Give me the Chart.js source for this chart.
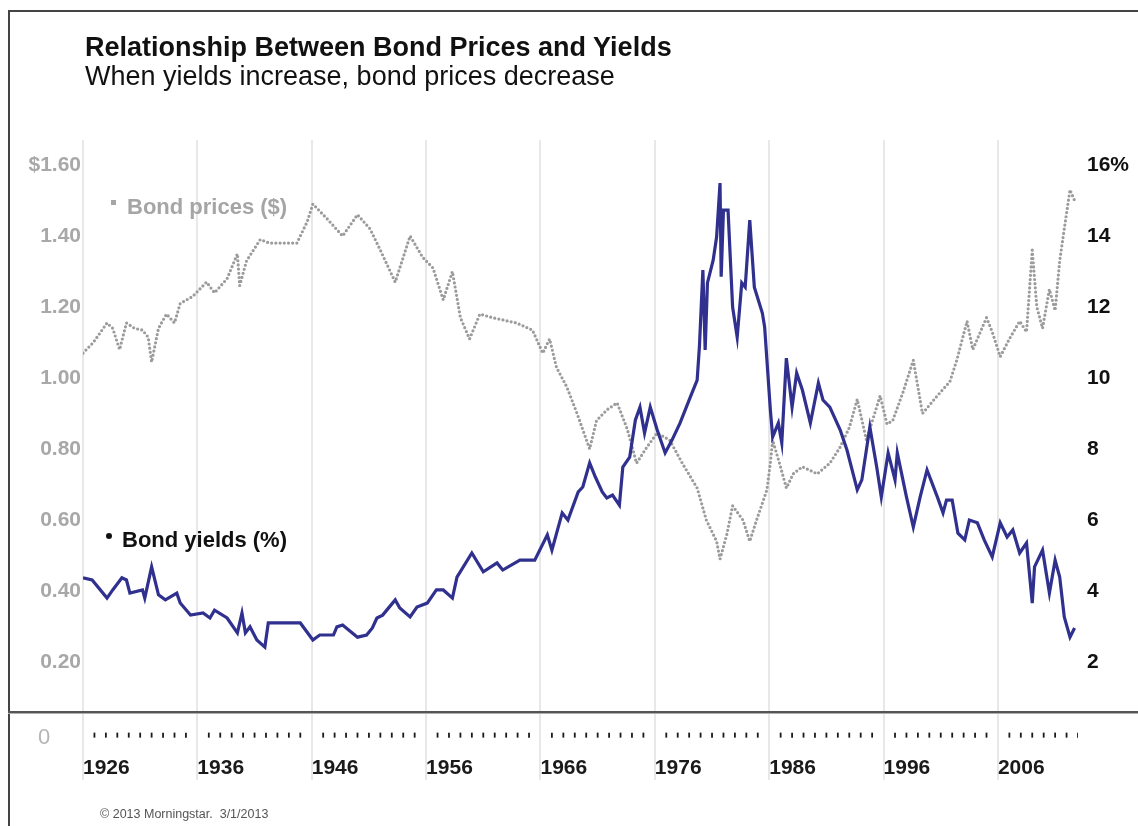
<!DOCTYPE html>
<html>
<head>
<meta charset="utf-8">
<title>Relationship Between Bond Prices and Yields</title>
<script src="https://cdn.jsdelivr.net/npm/chart.js@4.4.1/dist/chart.umd.min.js"></script>
<style>
  html, body { margin: 0; padding: 0; background: #fff; }
  #wrap { position: relative; width: 1138px; height: 826px; overflow: hidden; font-family: Arial, "Liberation Sans", sans-serif; }
  #chart { position: absolute; left: 0; top: 0; }
  .frame { position: absolute; left: 8px; top: 10px; width: 1140px; height: 830px; border-top: 2px solid #444; border-left: 2px solid #444; }
  .rule { position: absolute; left: 8px; width: 1130px; top: 711px; height: 2px; background: #555; border-bottom: 1px solid #b0b0b0; }
  .txt { position: absolute; white-space: nowrap; line-height: 1; }
  .dot { position: absolute; }
</style>
</head>
<body>
<div id="wrap">
  <canvas id="chart" width="1138" height="826"></canvas>
  <div class="frame"></div>
  <div class="rule"></div>
  <div class="txt" style="left:85px; top:34px; font-size:27px; font-weight:bold; color:#111;">Relationship Between Bond Prices and Yields</div>
  <div class="txt" style="left:85px; top:63px; font-size:27px; color:#111;">When yields increase, bond prices decrease</div>
  <div class="dot" style="left:111px; top:200px; width:5px; height:5px; background:#a5a5a5;"></div>
  <div class="txt" style="left:127px; top:196px; font-size:22px; font-weight:bold; color:#a5a5a5;">Bond prices ($)</div>
  <div class="dot" style="left:106px; top:533px; width:6px; height:6px; border-radius:3px; background:#111;"></div>
  <div class="txt" style="left:122px; top:529px; font-size:22px; font-weight:bold; color:#111;">Bond yields (%)</div>
  <div class="txt" style="left:38px; top:726px; font-size:22px; color:#b5b5b5;">0</div>
  <div class="txt" style="left:100px; top:808px; font-size:12.5px; color:#555;">© 2013 Morningstar.&nbsp; 3/1/2013</div>
</div>
<script>
// x axis labels (decades) and y axis ticks
const decadeYears = [1926, 1936, 1946, 1956, 1966, 1976, 1986, 1996, 2006];
const priceTicks = [0.2, 0.4, 0.6, 0.8, 1.0, 1.2, 1.4, 1.6];
const yieldTicks = [2, 4, 6, 8, 10, 12, 14, 16];

// Bond yields (%)
const yieldYears = [
  1926.0, 1926.8, 1928.1, 1928.6, 1929.4, 1929.8, 1930.1, 1931.2, 1931.4, 1932.0,
  1932.6, 1933.2, 1934.2, 1934.5, 1935.4, 1936.5, 1937.1, 1937.5, 1938.6, 1939.5,
  1939.9, 1940.2, 1940.6, 1941.2, 1941.9, 1942.2, 1945.0, 1946.1, 1946.7, 1947.9,
  1948.2, 1948.7, 1950.0, 1950.8, 1951.3, 1951.7, 1952.2, 1953.3, 1953.7, 1954.6,
  1955.2, 1956.1, 1956.9, 1957.5, 1958.3, 1958.7, 1960.0, 1961.0, 1962.2, 1962.7,
  1964.2, 1965.5, 1966.6, 1967.0, 1967.9, 1968.4, 1969.3, 1969.7, 1970.3, 1970.8,
  1971.4, 1971.8, 1972.3, 1972.9, 1973.2, 1973.8, 1974.3, 1974.7, 1975.1, 1975.6,
  1976.2, 1976.9, 1977.5, 1978.2, 1979.1, 1979.7, 1979.9, 1980.2, 1980.4, 1980.6,
  1981.1, 1981.4, 1981.7, 1981.8, 1982.0, 1982.4, 1982.8, 1983.2, 1983.6, 1983.9,
  1984.3, 1984.7, 1985.4, 1985.6, 1986.1, 1986.3, 1986.8, 1987.1, 1987.5, 1988.0,
  1988.4, 1988.9, 1989.6, 1990.3, 1990.7, 1991.3, 1992.2, 1992.8, 1993.7, 1994.1,
  1994.8, 1995.4, 1995.8, 1996.4, 1997.0, 1997.2, 1998.0, 1998.6, 1999.2, 1999.8,
  2000.7, 2001.2, 2001.5, 2002.0, 2002.5, 2003.1, 2003.5, 2004.2, 2004.8, 2005.5,
  2006.2, 2006.8, 2007.3, 2007.9, 2008.5, 2009.0, 2009.2, 2009.9, 2010.5, 2011.0,
  2011.4, 2011.8, 2012.3, 2012.7
];
const yieldValues = [
  4.37, 4.31, 3.80, 4.03, 4.37, 4.31, 3.94, 4.03, 3.80, 4.68,
  3.89, 3.75, 3.94, 3.66, 3.32, 3.38, 3.24, 3.46, 3.24, 2.82,
  3.38, 2.82, 2.99, 2.62, 2.42, 3.10, 3.10, 2.62, 2.76, 2.76,
  2.99, 3.04, 2.70, 2.76, 2.96, 3.24, 3.32, 3.75, 3.52, 3.27,
  3.55, 3.66, 4.03, 4.03, 3.80, 4.39, 5.07, 4.54, 4.79, 4.59,
  4.87, 4.87, 5.58, 5.15, 6.20, 6.00, 6.79, 6.93, 7.61, 7.21,
  6.79, 6.62, 6.70, 6.42, 7.49, 7.77, 8.82, 9.18, 8.45, 9.18,
  8.54, 7.89, 8.25, 8.73, 9.46, 9.94, 10.90, 13.04, 10.79, 12.68,
  13.32, 13.97, 15.49, 12.85, 14.73, 14.73, 12.00, 11.15, 12.68, 12.56,
  14.45, 12.56, 11.83, 11.44, 9.10, 8.34, 8.73, 8.17, 10.56, 9.18,
  10.14, 9.66, 8.73, 9.86, 9.38, 9.18, 8.54, 7.97, 6.85, 7.13,
  8.62, 7.49, 6.65, 7.89, 7.13, 7.89, 6.65, 5.80, 6.65, 7.41,
  6.65, 6.20, 6.56, 6.56, 5.63, 5.44, 6.00, 5.92, 5.44, 4.96,
  5.92, 5.52, 5.72, 5.07, 5.35, 3.66, 4.68, 5.15, 3.94, 4.87,
  4.39, 3.27, 2.70, 2.96
];

// Bond prices ($)
const priceYears = [
  1926.0, 1926.9, 1928.1, 1928.6, 1929.2, 1929.8, 1930.5, 1931.2, 1931.7, 1932.0,
  1932.6, 1933.3, 1934.0, 1934.5, 1935.6, 1936.8, 1937.5, 1938.6, 1939.5, 1939.7,
  1940.3, 1941.5, 1942.3, 1944.7, 1945.6, 1946.1, 1947.3, 1948.7, 1950.0, 1951.1,
  1952.0, 1953.3, 1954.6, 1955.7, 1956.6, 1957.5, 1958.3, 1959.0, 1959.8, 1960.7,
  1961.8, 1963.9, 1965.3, 1966.2, 1966.8, 1967.4, 1968.3, 1969.2, 1970.3, 1970.9,
  1971.8, 1972.7, 1973.6, 1974.4, 1975.3, 1976.2, 1977.3, 1978.4, 1979.7, 1980.5,
  1981.4, 1981.7, 1982.3, 1982.8, 1983.7, 1984.3, 1984.9, 1985.8, 1986.1, 1986.3,
  1986.9, 1987.5, 1988.1, 1988.9, 1990.2, 1991.3, 1992.2, 1993.0, 1993.7, 1994.5,
  1995.7, 1996.3, 1996.8, 1997.7, 1998.6, 1999.4, 2000.7, 2001.8, 2002.4, 2003.3,
  2003.8, 2005.0, 2005.5, 2006.2, 2007.0, 2007.9, 2008.5, 2009.0, 2009.4, 2009.9,
  2010.5, 2011.0, 2011.4, 2011.8, 2012.3, 2012.7
];
const priceValues = [
  1.07, 1.10, 1.155, 1.14, 1.08, 1.155, 1.14, 1.135, 1.115, 1.045,
  1.14, 1.18, 1.155, 1.21, 1.23, 1.27, 1.24, 1.28, 1.35, 1.26,
  1.33, 1.39, 1.38, 1.38, 1.44, 1.49, 1.45, 1.40, 1.46, 1.42,
  1.36, 1.27, 1.40, 1.34, 1.31, 1.22, 1.30, 1.17, 1.11, 1.18,
  1.17, 1.155, 1.135, 1.07, 1.11, 1.03, 0.975, 0.90, 0.80, 0.88,
  0.91, 0.93, 0.855, 0.76, 0.805, 0.845, 0.825, 0.76, 0.69, 0.60,
  0.54, 0.49, 0.56, 0.64, 0.60, 0.54, 0.60, 0.685, 0.76, 0.825,
  0.76, 0.69, 0.73, 0.75, 0.73, 0.76, 0.805, 0.86, 0.94, 0.825,
  0.95, 0.87, 0.88, 0.96, 1.05, 0.90, 0.95, 0.99, 1.05, 1.16,
  1.08, 1.17, 1.13, 1.06, 1.11, 1.16, 1.13, 1.36, 1.20, 1.14,
  1.25, 1.19, 1.33, 1.42, 1.53, 1.50
];

// small dotted year marks between the decade labels
const minorYears = [];
for (let yr = 1927; yr <= 2013; yr++) {
  if ((yr - 1926) % 10 !== 0) minorYears.push(yr);
}

const yieldData = yieldYears.map((yr, i) => ({ x: yr, y: yieldValues[i] }));
const priceData = priceYears.map((yr, i) => ({ x: yr, y: priceValues[i] }));
const minorData = minorYears.map(yr => ({ x: yr, y: -0.006 }));

const ctx = document.getElementById('chart').getContext('2d');
const bondChart = new Chart(ctx, {
    type: 'line',
    data: {
        datasets: [{
            label: 'Bond yields (%)',
            data: yieldData,
            yAxisID: 'y1',
            borderColor: '#30308e',
            borderWidth: 3.2,
            pointRadius: 0,
            tension: 0
        }, {
            label: 'Bond prices ($)',
            data: priceData,
            yAxisID: 'y',
            borderColor: '#9b9b9b',
            borderWidth: 3.2,
            borderDash: [0, 4.2],
            borderCapStyle: 'round',
            pointRadius: 0,
            tension: 0
        }, {
            label: 'years',
            data: minorData,
            yAxisID: 'y',
            showLine: false,
            pointStyle: 'line',
            rotation: 90,
            pointRadius: 2.5,
            borderColor: '#1a1a1a',
            borderWidth: 1.8
        }]
    },
    options: {
        responsive: false,
        animation: false,
        layout: { padding: { top: 140, left: 0, right: 0, bottom: 0 } },
        plugins: {
            legend: { display: false },
            tooltip: { enabled: false }
        },
        scales: {
            x: {
                type: 'linear',
                min: 1926,
                max: 2013,
                afterBuildTicks: (s) => { s.ticks = decadeYears.map(v => ({ value: v })); },
                afterFit: (s) => { s.height = 46; },
                ticks: {
                    align: 'start',
                    mirror: true,
                    autoSkip: false,
                    maxRotation: 0,
                    padding: -1,
                    color: '#1a1a1a',
                    font: { family: 'Arial, "Liberation Sans", sans-serif', size: 21, weight: 'bold' },
                    callback: (v) => String(v)
                },
                grid: { color: '#e8e8e8', lineWidth: 2, drawTicks: false },
                border: { display: false }
            },
            y: {
                position: 'left',
                min: -0.1324,
                max: 1.6704,
                afterBuildTicks: (s) => { s.ticks = priceTicks.map(v => ({ value: v })); },
                afterFit: (s) => { s.width = 83; },
                ticks: {
                    padding: 2,
                    color: '#a8a8a8',
                    font: { family: 'Arial, "Liberation Sans", sans-serif', size: 21, weight: 'bold' },
                    callback: (v) => v === 1.6 ? '$1.60' : v.toFixed(2)
                },
                grid: { display: false, drawTicks: false },
                border: { display: false }
            },
            y1: {
                position: 'right',
                min: -1.324,
                max: 16.704,
                afterBuildTicks: (s) => { s.ticks = yieldTicks.map(v => ({ value: v })); },
                afterFit: (s) => { s.width = 60; },
                ticks: {
                    padding: 9,
                    color: '#111',
                    font: { family: 'Arial, "Liberation Sans", sans-serif', size: 21, weight: 'bold' },
                    callback: (v) => v === 16 ? '16%' : String(v)
                },
                grid: { display: false, drawTicks: false },
                border: { display: false }
            }
        }
    }
});
</script>
</body>
</html>
